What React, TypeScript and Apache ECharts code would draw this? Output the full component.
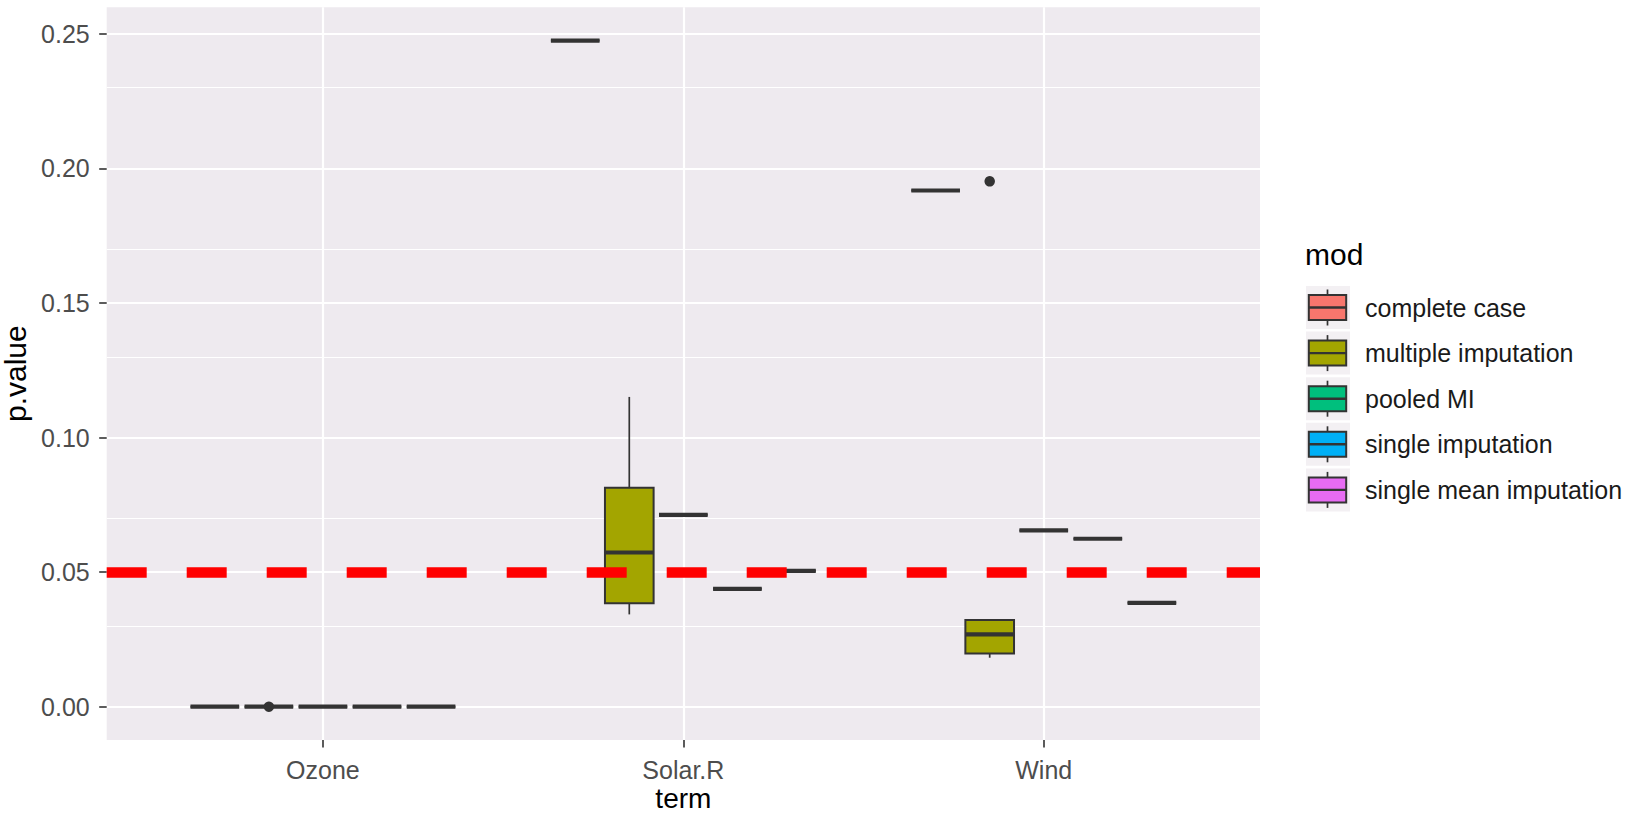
import React, { useEffect, useRef } from 'react';
import * as echarts from 'echarts';

// ---------- data ----------
const terms = ['Ozone', 'Solar.R', 'Wind'];
const mods = ['complete case', 'multiple imputation', 'pooled MI', 'single imputation', 'single mean imputation'];
const modColors = ['#F8766D', '#A3A500', '#00BF7D', '#00B0F6', '#E76BF3'];

// box statistics per term (Ozone, Solar.R, Wind): [lower whisker, Q1, median, Q3, upper whisker]
const completeCase = [
  [0, 0, 0, 0, 0],
  [0.2475, 0.2475, 0.2475, 0.2475, 0.2475],
  [0.1918, 0.1918, 0.1918, 0.1918, 0.1918],
];
const multipleImputation = [
  [0, 0, 0, 0, 0],
  [0.0343, 0.0384, 0.0573, 0.0814, 0.1151],
  [0.0182, 0.0198, 0.0269, 0.0322, 0.0322],
];
const pooledMI = [
  [0, 0, 0, 0, 0],
  [0.0713, 0.0713, 0.0713, 0.0713, 0.0713],
  [0.0655, 0.0655, 0.0655, 0.0655, 0.0655],
];
const singleImputation = [
  [0, 0, 0, 0, 0],
  [0.0438, 0.0438, 0.0438, 0.0438, 0.0438],
  [0.0624, 0.0624, 0.0624, 0.0624, 0.0624],
];
const singleMeanImputation = [
  [0, 0, 0, 0, 0],
  [0.0505, 0.0505, 0.0505, 0.0505, 0.0505],
  [0.0386, 0.0386, 0.0386, 0.0386, 0.0386],
];
const boxStats = [completeCase, multipleImputation, pooledMI, singleImputation, singleMeanImputation];

// outliers of "multiple imputation": [term index, value]
const multipleImputationOutliers = [
  [0, 0.0],
  [2, 0.1952],
];

const yTicks = [0, 0.05, 0.1, 0.15, 0.2, 0.25];
const yMinorGrid = [0.025, 0.075, 0.125, 0.175, 0.225];
const threshold = 0.05;

// ---------- layout constants ----------
const DODGE = 0.15;
const HALF_BOX = 0.0675;
const FONT = '"Liberation Sans", Arial, sans-serif';
const INK = '#333333';
const TICK_FONT = 25;
const TITLE_FONT = 30;

export default function App() {
  const ref = useRef<HTMLDivElement>(null);

  useEffect(() => {
    if (!ref.current) return;
    const chart = echarts.init(ref.current, undefined, { renderer: 'svg' });

    const allVals: number[] = [];
    boxStats.forEach((m) => m.forEach((s) => allVals.push(...s)));
    multipleImputationOutliers.forEach((o) => allVals.push(o[1]));
    const lo = Math.min(...allVals);
    const hi = Math.max(...allVals);
    const pad = (hi - lo) * 0.05;

    const xOf = (ti: number, mi: number) => ti + 1 + (mi - 2) * DODGE;

    const boxSeries = mods.map((name, mi) => ({
      type: 'custom',
      name,
      z: 3,
      encode: { x: 0, y: [1, 2, 3, 4, 5] },
      data: boxStats[mi].map((s, ti) => [xOf(ti, mi), ...s]),
      renderItem: (params: any, api: any) => {
        const x = api.value(0);
        const vlo = api.value(1), q1 = api.value(2), md = api.value(3), q3 = api.value(4), vhi = api.value(5);
        const pL = api.coord([x - HALF_BOX, q1]);
        const pR = api.coord([x + HALF_BOX, q3]);
        const pLo = api.coord([x, vlo]);
        const pHi = api.coord([x, vhi]);
        const pMd = api.coord([x, md]);
        const xc = pLo[0];
        return {
          type: 'group',
          children: [
            { type: 'line', shape: { x1: xc, y1: pLo[1], x2: xc, y2: pL[1] }, style: { stroke: INK, lineWidth: 1.7 } },
            { type: 'line', shape: { x1: xc, y1: pR[1], x2: xc, y2: pHi[1] }, style: { stroke: INK, lineWidth: 1.7 } },
            {
              type: 'rect',
              shape: { x: pL[0], y: pR[1], width: pR[0] - pL[0], height: pL[1] - pR[1] },
              style: { fill: modColors[mi], stroke: INK, lineWidth: 2 },
            },
            { type: 'line', shape: { x1: pL[0], y1: pMd[1], x2: pR[0], y2: pMd[1] }, style: { stroke: INK, lineWidth: 4.2 } },
          ],
        };
      },
    }));

    const legendGraphics: any[] = [
      {
        type: 'text',
        x: 1305,
        y: 254,
        style: { text: 'mod', fontSize: TITLE_FONT, fontFamily: FONT, fill: '#000', verticalAlign: 'middle' },
      },
    ];
    mods.forEach((name, i) => {
      const cy = 307.5 + i * 45.6;
      legendGraphics.push(
        { type: 'rect', shape: { x: 1306, y: cy - 21.5, width: 44, height: 43 }, style: { fill: '#F3F0F3' } },
        { type: 'line', shape: { x1: 1327.5, y1: cy - 18, x2: 1327.5, y2: cy + 18 }, style: { stroke: INK, lineWidth: 1.7 } },
        {
          type: 'rect',
          shape: { x: 1308.8, y: cy - 12.5, width: 37.4, height: 25 },
          style: { fill: modColors[i], stroke: INK, lineWidth: 2 },
        },
        { type: 'line', shape: { x1: 1308.8, y1: cy, x2: 1346.2, y2: cy }, style: { stroke: INK, lineWidth: 2.4 } },
        {
          type: 'text',
          x: 1365,
          y: cy,
          style: { text: name, fontSize: TICK_FONT, fontFamily: FONT, fill: '#1A1A1A', verticalAlign: 'middle' },
        }
      );
    });

    chart.setOption({
      animation: false,
      backgroundColor: '#FFFFFF',
      textStyle: { fontFamily: FONT },
      grid: {
        left: 106.7,
        right: 380,
        top: 7.3,
        bottom: 75,
        show: true,
        backgroundColor: '#EEEAEF',
        borderWidth: 0,
        containLabel: false,
        outerBoundsMode: 'none',
      },
      xAxis: {
        type: 'value',
        min: 0.4,
        max: 3.6,
        axisLine: { show: false, onZero: false },
        axisTick: { show: true, customValues: [1, 2, 3], length: 7.5, lineStyle: { color: INK, width: 1.6 } },
        axisLabel: {
          customValues: [1, 2, 3],
          formatter: (v: number) => terms[Math.round(v) - 1] ?? '',
          fontSize: TICK_FONT,
          color: '#4D4D4D',
          margin: 17.5,
          fontFamily: FONT,
        },
        splitLine: { show: true, lineStyle: { color: '#FFFFFF', width: 2.2 } },
        name: 'term',
        nameLocation: 'middle',
        nameGap: 44,
        nameMoveOverlap: false,
        nameTextStyle: { fontSize: 28, lineHeight: 28, color: '#000', fontFamily: FONT },
      },
      yAxis: {
        type: 'value',
        min: lo - pad,
        max: hi + pad,
        axisLine: { show: false, onZero: false },
        axisTick: { show: true, customValues: yTicks, length: 7.5, lineStyle: { color: INK, width: 1.6 } },
        axisLabel: {
          customValues: yTicks,
          formatter: (v: number) => v.toFixed(2),
          fontSize: TICK_FONT,
          color: '#4D4D4D',
          margin: 17,
          fontFamily: FONT,
        },
        splitLine: { show: true, lineStyle: { color: '#FFFFFF', width: 2.2 } },
        name: 'p.value',
        nameLocation: 'middle',
        nameGap: 76,
        nameTextStyle: { fontSize: TITLE_FONT, color: '#000', fontFamily: FONT },
      },
      graphic: legendGraphics,
      series: [
        {
          type: 'line',
          name: 'minor grid',
          data: [],
          z: 1,
          silent: true,
          markLine: {
            z: 1,
            silent: true,
            animation: false,
            symbol: ['none', 'none'],
            label: { show: false },
            lineStyle: { color: '#FFFFFF', width: 1.1, type: 'solid' },
            data: yMinorGrid.map((v) => ({ yAxis: v })),
          },
        },
        ...boxSeries,
        {
          type: 'scatter',
          name: 'outliers',
          z: 4,
          symbolSize: 10.5,
          itemStyle: { color: INK, opacity: 1 },
          data: multipleImputationOutliers.map((o) => [xOf(o[0], 1), o[1]]),
        },
        {
          type: 'line',
          name: 'threshold',
          data: [],
          z: 10,
          silent: true,
          markLine: {
            z: 10,
            silent: true,
            animation: false,
            symbol: ['none', 'none'],
            label: { show: false },
            lineStyle: { color: '#FF0000', width: 10.5, type: [40, 40], cap: 'butt', opacity: 1 },
            data: [{ yAxis: threshold }],
          },
        },
      ],
    } as any);

    return () => chart.dispose();
  }, []);

  return (
    <div
      ref={ref}
      style={{ position: 'absolute', left: 0, top: 0, width: 1640, height: 815, background: '#FFFFFF' }}
    />
  );
}
